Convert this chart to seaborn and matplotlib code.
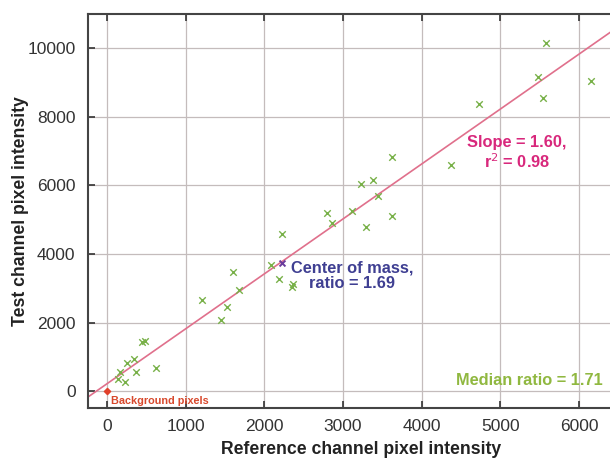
import numpy as np
import pandas as pd
import seaborn as sns
import matplotlib.pyplot as plt

# pixel intensities
ref_intensity = [5574, 5472, 6150, 5544, 4727, 3625, 4371, 3223, 3384, 3440,
                 2791, 3117, 2855, 3625, 3295, 2219, 2080, 2186, 2346, 1601,
                 1681, 1203, 1521, 1449, 440, 483, 347, 250, 619, 165,
                 363, 136, 229, 2360]
test_intensity = [10149, 9141, 9042, 8530, 8364, 6821, 6597, 6044, 6160, 5695,
                  5200, 5249, 4909, 5112, 4792, 4579, 3677, 3279, 3046, 3482,
                  2940, 2649, 2445, 2085, 1435, 1473, 949, 824, 687, 571,
                  553, 367, 280, 3110]

center_of_mass = (2219, 3744)
background = (0, 0)
fit_slope = 1.60
fit_intercept = 220

x_ticks = [0, 1000, 2000, 3000, 4000, 5000, 6000]
y_ticks = [0, 2000, 4000, 6000, 8000, 10000]

df = pd.DataFrame({'ref': ref_intensity, 'test': test_intensity})

sns.set_theme(style='white')
plt.rcParams['font.family'] = ['Liberation Sans', 'DejaVu Sans']

fig = plt.figure(figsize=(6.1, 4.58), dpi=100)
# the plot area runs past the right edge of the picture, as in the original crop
ax = fig.add_axes([0.1443, 0.1092, 0.895, 0.8602])

# fitted line
fit_x = np.array([-300, 7000])
fit_df = pd.DataFrame({'x': fit_x, 'y': fit_slope * fit_x + fit_intercept})
sns.lineplot(data=fit_df, x='x', y='y', color='#e0708c', linewidth=1.2, ax=ax)

# points
sns.scatterplot(data=df, x='ref', y='test', marker='x', s=22, linewidth=1.0,
                color='#78b048', ax=ax, zorder=3)
ax.scatter([center_of_mass[0]], [center_of_mass[1]], marker='x', s=18,
           linewidth=1.4, color='#6a3c9c', zorder=4)
ax.scatter([background[0]], [background[1]], marker='D', s=10,
           color='#e0402a', zorder=4)

ax.set_xlim(-241, 6696)
ax.set_ylim(-486, 10984)
ax.set_xticks(x_ticks)
ax.set_yticks(y_ticks)
ax.grid(True, color='#c4bcbc', linewidth=0.9, linestyle='-')
ax.set_axisbelow(True)

# annotations
ax.text(5210, 6940, 'Slope = 1.60,\nr$^2$ = 0.98', color='#d8287c',
        fontsize=11.8, fontweight='bold', ha='center', va='center',
        linespacing=1.1)
ax.text(3110, 3360, 'Center of mass,\nratio = 1.69', color='#3f3f92',
        fontsize=11.8, fontweight='bold', ha='center', va='center',
        linespacing=1.1)
ax.text(4430, 300, 'Median ratio = 1.71', color='#90b840',
        fontsize=11.8, fontweight='bold', ha='left', va='center')
ax.text(50, -290, 'Background pixels', color='#d8482c',
        fontsize=7.8, fontweight='bold', ha='left', va='center')

ax.set_xlabel('Reference channel pixel intensity', fontsize=12.7,
              fontweight='bold', color='#222222', labelpad=5)
ax.set_ylabel('Test channel pixel intensity', fontsize=12.7,
              fontweight='bold', color='#222222', labelpad=-1)

ax.tick_params(axis='both', which='major', labelsize=12.5, colors='#333333',
               direction='in', length=5, width=1.2, top=True, bottom=True,
               left=True)
ax.tick_params(axis='x', pad=8)
ax.tick_params(axis='y', pad=9)
for side in ['left', 'bottom', 'top']:
    ax.spines[side].set_color('#444444')
    ax.spines[side].set_linewidth(1.5)
ax.spines['right'].set_visible(False)

fig.savefig('out.png', dpi=100)
